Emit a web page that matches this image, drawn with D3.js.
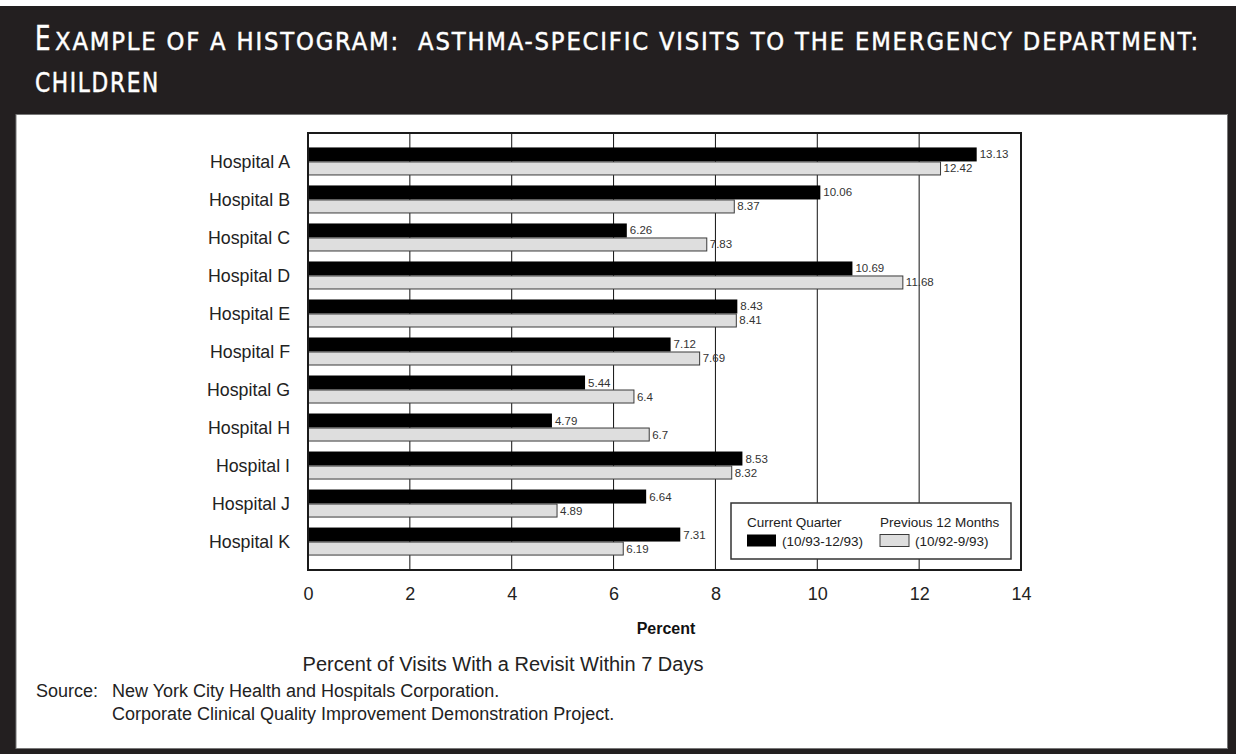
<!DOCTYPE html>
<html>
<head>
<meta charset="utf-8">
<script src="https://cdn.jsdelivr.net/npm/d3@7"></script>
<style>
  html, body { margin: 0; padding: 0; background: #fff; }
  svg { display: block; font-family: "Liberation Sans", Arial, Helvetica, sans-serif; }
</style>
</head>
<body>
<svg id="chart" width="1236" height="754"></svg>
<script>
// Hospitals, top to bottom
const hospitals = ["Hospital A", "Hospital B", "Hospital C", "Hospital D", "Hospital E",
  "Hospital F", "Hospital G", "Hospital H", "Hospital I", "Hospital J", "Hospital K"];

// Current quarter (10/93-12/93), percent of visits with a revisit within 7 days
const currentQuarter = [13.13, 10.06, 6.26, 10.69, 8.43, 7.12, 5.44, 4.79, 8.53, 6.64, 7.31];

// Previous 12 months (10/92-9/93)
const previous12Months = [12.42, 8.37, 7.83, 11.68, 8.41, 7.69, 6.4, 6.7, 8.32, 4.89, 6.19];

const xTicks = [0, 2, 4, 6, 8, 10, 12, 14];
const seriesKeys = ["current", "previous"];
const seriesNames = ["Current Quarter", "Previous 12 Months"];
const seriesPeriods = ["(10/93-12/93)", "(10/92-9/93)"];

const titleInitial = "E";
const titleRest = "XAMPLE OF A HISTOGRAM:  ASTHMA-SPECIFIC VISITS TO THE EMERGENCY DEPARTMENT:";
const titleLine2 = "CHILDREN";
const axisTitle = "Percent";
const caption = "Percent of Visits With a Revisit Within 7 Days";
const sourceLabel = "Source:";
const sourceLines = ["New York City Health and Hospitals Corporation.",
  "Corporate Clinical Quality Improvement Demonstration Project."];

const rows = hospitals.map((h, i) => ({ hospital: h, current: currentQuarter[i], previous: previous12Months[i] }));

const W = 1236, H = 754;
const svg = d3.select("#chart");
const dark = "#231f20";
const fills = { current: "#000000", previous: "#dedede" };

// Page frame: dark band and title, white panel underneath
svg.append("rect").attr("x", 0).attr("y", 6).attr("width", W).attr("height", H - 6).attr("fill", dark);
svg.append("rect").attr("x", 16).attr("y", 114.5).attr("width", 1211.5).attr("height", 634)
  .attr("fill", "#fff").attr("stroke", "#777").attr("stroke-width", 1);

// Title in condensed small caps, slightly thickened strokes
const titleFont = "'DejaVu Sans Condensed', 'DejaVu Sans', sans-serif";
function titleText(str, xPos, yPos, size, len) {
  svg.append("text").attr("x", xPos).attr("y", yPos)
    .attr("fill", "#fff").attr("stroke", "#fff").attr("stroke-width", 0.45)
    .style("font-family", titleFont).style("font-size", size + "px")
    .style("letter-spacing", "1.8px").style("white-space", "pre")
    .attr("textLength", len).attr("lengthAdjust", "spacingAndGlyphs").text(str);
}
titleText(titleInitial, 35, 50, 33, 17);
titleText(titleRest, 55, 50, 25, 1145);
titleText(titleLine2, 35, 92, 26, 125);

// Plot area
const plot = { left: 308, right: 1021, top: 133, bottom: 570 };
const x = d3.scaleLinear().domain([0, 14]).range([plot.left, plot.right]);
const y = d3.scaleBand().domain(hospitals).range([plot.top, plot.bottom])
  .paddingInner(0.263).paddingOuter(0.38);
const ySub = d3.scaleBand().domain(seriesKeys).range([0, y.bandwidth()]);

// Vertical grid lines
svg.append("g").selectAll("line").data(xTicks.slice(1, -1)).join("line")
  .attr("x1", d => x(d)).attr("x2", d => x(d))
  .attr("y1", plot.top).attr("y2", plot.bottom)
  .attr("stroke", "#111").attr("stroke-width", 1);

// Bars
const groups = svg.append("g").selectAll("g").data(rows).join("g")
  .attr("transform", d => `translate(0,${y(d.hospital)})`);

groups.selectAll("rect").data(d => seriesKeys.map(k => ({ key: k, value: d[k] }))).join("rect")
  .attr("x", x(0))
  .attr("y", d => ySub(d.key) + (d.key === "previous" ? 0.5 : 0))
  .attr("width", d => x(d.value) - x(0))
  .attr("height", d => ySub.bandwidth() - (d.key === "previous" ? 1 : 0))
  .attr("fill", d => fills[d.key])
  .attr("stroke", d => d.key === "previous" ? "#3a3a3a" : "none")
  .attr("stroke-width", 1);

// Value labels
groups.selectAll("text").data(d => seriesKeys.map(k => ({ key: k, value: d[k] }))).join("text")
  .attr("x", d => x(d.value) + 3)
  .attr("y", d => ySub(d.key) + ySub.bandwidth() / 2 + 4)
  .attr("fill", "#333")
  .style("font-size", "11.5px")
  .text(d => d.value);

// Plot frame
svg.append("rect").attr("x", plot.left).attr("y", plot.top)
  .attr("width", plot.right - plot.left).attr("height", plot.bottom - plot.top)
  .attr("fill", "none").attr("stroke", "#1a1a1a").attr("stroke-width", 2);

// Category labels
svg.append("g").selectAll("text").data(hospitals).join("text")
  .attr("x", 290).attr("y", d => y(d) + y.bandwidth() / 2 + 6.5)
  .attr("text-anchor", "end").attr("fill", "#222")
  .style("font-size", "17.8px")
  .text(d => d);

// X axis
const xAxis = d3.axisBottom(x).tickValues(xTicks).tickSize(0).tickPadding(17).tickFormat(d3.format("d"));
const gx = svg.append("g").attr("transform", `translate(0,${plot.bottom})`).call(xAxis);
gx.select(".domain").remove();
gx.selectAll("text").style("font-size", "18px").style("font-family", "'Liberation Sans', Arial, sans-serif").attr("fill", "#222");

svg.append("text").attr("x", 666).attr("y", 634).attr("text-anchor", "middle")
  .style("font-size", "16px").style("font-weight", "bold").attr("fill", "#111").text(axisTitle);

// Legend
const legend = svg.append("g");
legend.append("rect").attr("x", 731).attr("y", 503).attr("width", 280).attr("height", 56)
  .attr("fill", "#fff").attr("stroke", "#333").attr("stroke-width", 1.5);
const legendX = [747, 880];
seriesKeys.forEach((k, i) => {
  legend.append("text").attr("x", legendX[i]).attr("y", 527).attr("fill", "#222")
    .style("font-size", "13.5px").text(seriesNames[i]);
  legend.append("rect").attr("x", legendX[i]).attr("y", 534.5).attr("width", 29).attr("height", 12)
    .attr("fill", fills[k]).attr("stroke", k === "previous" ? "#3a3a3a" : "none");
  legend.append("text").attr("x", legendX[i] + 35).attr("y", 546).attr("fill", "#222")
    .style("font-size", "13.5px").text(seriesPeriods[i]);
});

// Caption and source
svg.append("text").attr("x", 503).attr("y", 671).attr("text-anchor", "middle")
  .attr("fill", "#222").style("font-size", "20px").text(caption);
svg.append("text").attr("x", 36).attr("y", 697).attr("fill", "#222")
  .style("font-size", "18px").text(sourceLabel);
sourceLines.forEach((t, i) => {
  svg.append("text").attr("x", 112).attr("y", 697 + i * 23).attr("fill", "#222")
    .style("font-size", "18px").text(t);
});
</script>
</body>
</html>
